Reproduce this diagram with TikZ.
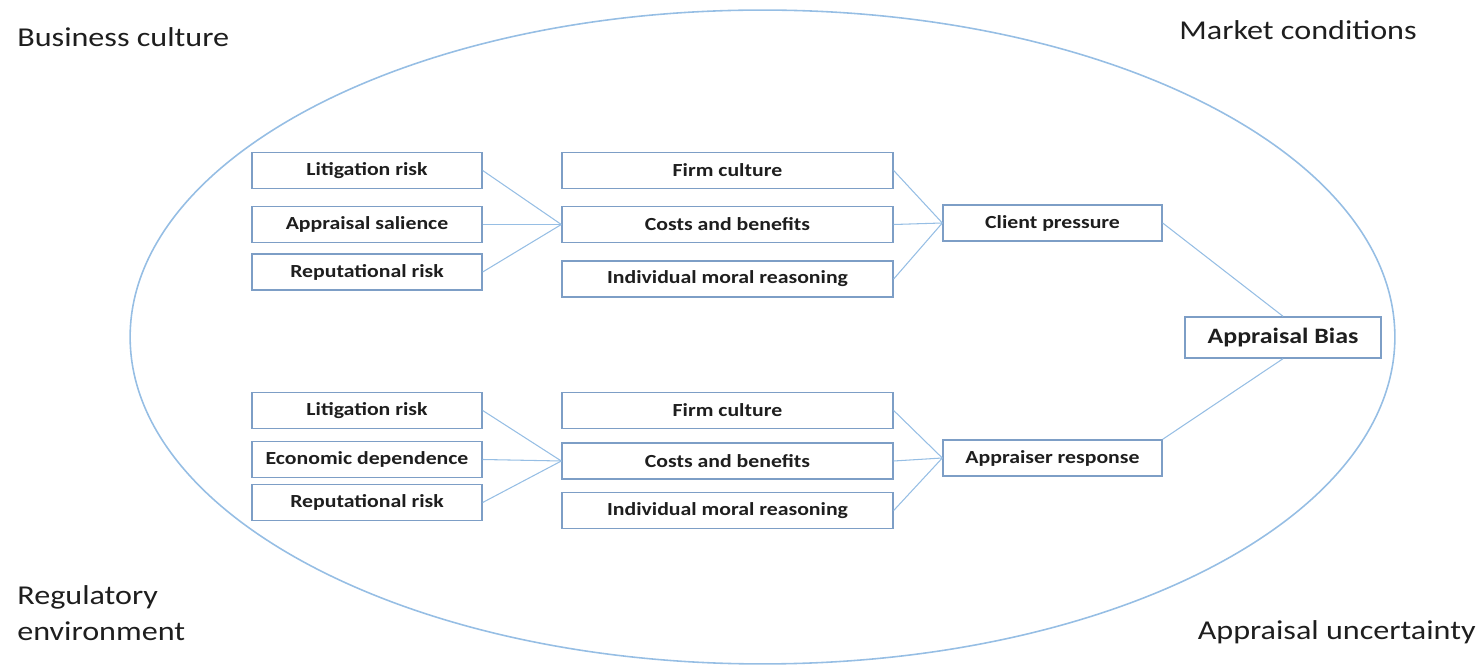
\documentclass[tikz,border=0pt]{standalone}
\usepackage{fontspec}
\setmainfont{Carlito}[FakeStretch=1.18]
\usetikzlibrary{positioning}

\definecolor{boxBlue}{RGB}{125,158,198}
\definecolor{lineBlue}{RGB}{150,190,228}
\definecolor{textGrey}{RGB}{30,30,30}

\tikzset{
  factorBox/.style={draw=boxBlue, line width=0.8pt, fill=white, inner sep=0pt,
    minimum height=0.72cm, text=textGrey, font=\fontsize{10.5}{12}\selectfont\bfseries},
  leftBox/.style={factorBox, minimum width=4.6cm},
  midBox/.style={factorBox, minimum width=6.62cm},
  outBox/.style={factorBox, minimum width=4.38cm},
  biasBox/.style={factorBox, minimum width=3.92cm, minimum height=0.82cm,
    font=\fontsize{12.5}{14}\selectfont\bfseries},
  envLabel/.style={text=textGrey, font=\fontsize{15.5}{20.5}\selectfont, inner sep=0pt},
  link/.style={draw=lineBlue, line width=0.6pt},
}

\begin{document}
\begin{tikzpicture}[x=0.02cm, y=-0.02cm]

\useasboundingbox (0,0) rectangle (1481,668) ;

% environment
\draw[lineBlue, line width=0.9pt] (762.5,337) ellipse [x radius=12.65cm, y radius=6.54cm] ;

\node[envLabel, anchor=west] (business) at (17,37) {Business culture} ;
\node[envLabel, anchor=east] (market) at (1417,30) {Market conditions} ;
\node[envLabel, anchor=west, align=left] (regulatory) at (17,613) {Regulatory\\environment} ;
\node[envLabel, anchor=east] (uncertainty) at (1476,632) {Appraisal uncertainty} ;

% client side
\node[leftBox] (litTop) at (367,170.5) {Litigation risk} ;
\node[leftBox] (salience) at (367,224.5) {Appraisal salience} ;
\node[leftBox] (repTop) at (367,272) {Reputational risk} ;

\node[midBox] (firmTop) at (727.5,170.5) {Firm culture} ;
\node[midBox] (costsTop) at (727.5,224.5) {Costs and benefits} ;
\node[midBox] (moralTop) at (727.5,279) {Individual moral reasoning} ;

\node[outBox] (client) at (1052.5,223) {Client pressure} ;

% appraiser side
\node[leftBox] (litBot) at (367,410.5) {Litigation risk} ;
\node[leftBox] (economic) at (367,459.5) {Economic dependence} ;
\node[leftBox] (repBot) at (367,502.5) {Reputational risk} ;

\node[midBox] (firmBot) at (727.5,410.5) {Firm culture} ;
\node[midBox] (costsBot) at (727.5,461) {Costs and benefits} ;
\node[midBox] (moralBot) at (727.5,510.5) {Individual moral reasoning} ;

\node[outBox] (appraiser) at (1052.5,458) {Appraiser response} ;

% outcome
\node[biasBox] (bias) at (1283,337.5) {Appraisal Bias} ;

% links
\foreach \src in {litTop, salience, repTop}
  \path[link] (\src.east) -- (costsTop.west) ;
\foreach \src in {firmTop, costsTop, moralTop}
  \path[link] (\src.east) -- (client.west) ;
\foreach \src in {litBot, economic, repBot}
  \path[link] (\src.east) -- (costsBot.west) ;
\foreach \src in {firmBot, costsBot, moralBot}
  \path[link] (\src.east) -- (appraiser.west) ;

\path[link] (client.east) -- (bias.north) ;
\path[link] (appraiser.north east) -- (bias.south) ;

\end{tikzpicture}
\end{document}
